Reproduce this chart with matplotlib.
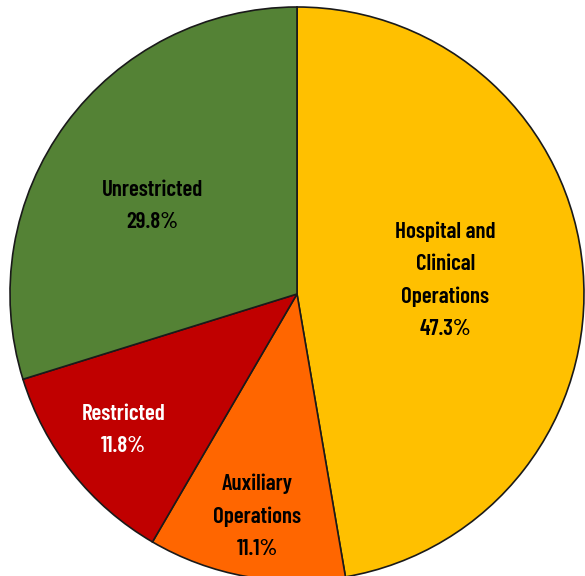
import numpy as np
import matplotlib
matplotlib.use('Agg')
import matplotlib.pyplot as plt

# slices, clockwise from 12 o'clock
labels = ['Hospital and\nClinical\nOperations', 'Auxiliary\nOperations', 'Restricted', 'Unrestricted']
values = [47.3, 11.1, 11.8, 29.8]
colors = ['#FFC000', '#FF6600', '#C00000', '#548235']
text_colors = ['black', 'black', 'white', 'black']
label_dist = [0.52, 0.776, 0.763, 0.596]
label_turn = [1.6, 0.0, -1.0, 4.3]   # degrees off the wedge middle

plt.rcParams['font.family'] = ['Barlow Condensed', 'Oswald', 'DejaVu Sans']

W, H = 585, 576
fig = plt.figure(figsize=(W / 100, H / 100), dpi=100)
ax = fig.add_axes([0, 0, 1, 1])

# pie centre / radius in pixels
cx, cy, r = 297, 294, 287

wedges, _ = ax.pie(values, colors=colors, startangle=90, counterclock=False,
                   radius=1, frame=True,
                   wedgeprops=dict(edgecolor='#1a1a1a', linewidth=1.2))
ax.set_xlim(-cx / r, (W - cx) / r)
ax.set_ylim(-(H - cy) / r, cy / r)
ax.set_aspect('auto')
ax.axis('off')

nudge = 3 / r  # labels sit a touch lower than the geometric centre
for w, lab, v, tc, d, t in zip(wedges, labels, values, text_colors, label_dist, label_turn):
    ang = np.deg2rad((w.theta1 + w.theta2) / 2 + t)
    ax.text(d * np.cos(ang), d * np.sin(ang) - nudge, f'{lab}\n{v:.1f}%',
            ha='center', va='center', fontsize=16.5, fontweight='semibold',
            color=tc, linespacing=1.75)

fig.savefig('out.png', dpi=100)
